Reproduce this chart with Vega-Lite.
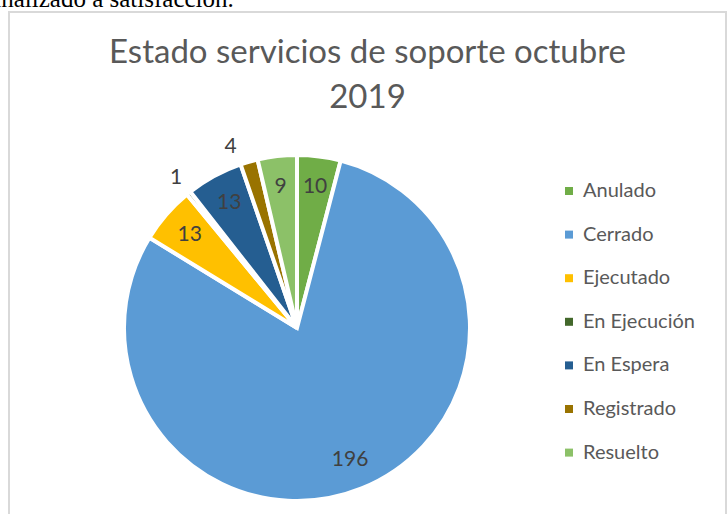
{
  "$schema": "https://vega.github.io/schema/vega-lite/v6.json",
  "autosize": "none",
  "padding": {"left": 9, "top": 12, "right": 2, "bottom": 0},
  "background": "white",
  "width": 717,
  "height": 503,
  "view": {"stroke": "#d9d9d9", "strokeWidth": 2},
  "title": {
    "text": ["Estado servicios de soporte octubre", "2019"],
    "font": "Lato",
    "fontSize": 33,
    "fontWeight": "normal",
    "color": "#595959",
    "anchor": "middle",
    "frame": "group",
    "lineHeight": 45,
    "baseline": "alphabetic",
    "offset": -154
  },
  "data": {
    "values": [
      {"Estado": "Anulado", "Cantidad": 10},
      {"Estado": "Cerrado", "Cantidad": 196},
      {"Estado": "Ejecutado", "Cantidad": 13},
      {"Estado": "En Ejecución", "Cantidad": 1},
      {"Estado": "En Espera", "Cantidad": 13},
      {"Estado": "Registrado", "Cantidad": 4},
      {"Estado": "Resuelto", "Cantidad": 9}
    ]
  },
  "layer": [
    {
      "mark": {"type": "arc", "radius": 173, "x": 288, "y": 316, "stroke": "white", "strokeWidth": 4},
      "encoding": {
        "theta": {"field": "Cantidad", "type": "quantitative", "stack": true},
        "order": {"field": "Estado", "type": "ordinal"},
        "color": {
          "field": "Estado",
          "type": "nominal",
          "scale": {
            "domain": ["Anulado", "Cerrado", "Ejecutado", "En Ejecución", "En Espera", "Registrado", "Resuelto"],
            "range": ["#70AD47", "#5B9BD5", "#FFC000", "#43682B", "#255E91", "#997300", "#8CC168"]
          },
          "legend": {
            "orient": "none",
            "legendX": 550,
            "legendY": 169,
            "title": null,
            "padding": 0,
            "symbolType": "square",
            "symbolSize": 64,
            "symbolStrokeWidth": 0,
            "labelFont": "Lato",
            "labelFontSize": 20,
            "labelColor": "#595959",
            "labelOffset": 4,
            "rowPadding": 23.6
          }
        }
      }
    },
    {
      "mark": {"type": "text", "radius": 142, "x": 288, "y": 316, "font": "Lato", "fontSize": 21, "color": "#404040"},
      "encoding": {
        "theta": {"field": "Cantidad", "type": "quantitative", "stack": true},
        "order": {"field": "Estado", "type": "ordinal"},
        "text": {"condition": {"test": "datum.Cantidad >= 5", "field": "Cantidad", "type": "quantitative"}, "value": ""}
      }
    },
    {
      "mark": {"type": "text", "radius": 193, "x": 288, "y": 316, "font": "Lato", "fontSize": 21, "color": "#404040"},
      "encoding": {
        "theta": {"field": "Cantidad", "type": "quantitative", "stack": true},
        "order": {"field": "Estado", "type": "ordinal"},
        "text": {"condition": {"test": "datum.Estado === 'En Ejecución'", "field": "Cantidad", "type": "quantitative"}, "value": ""}
      }
    },
    {
      "mark": {"type": "text", "radius": 193, "x": 288, "y": 316, "dx": -13, "dy": 4, "font": "Lato", "fontSize": 21, "color": "#404040"},
      "encoding": {
        "theta": {"field": "Cantidad", "type": "quantitative", "stack": true},
        "order": {"field": "Estado", "type": "ordinal"},
        "text": {"condition": {"test": "datum.Estado === 'Registrado'", "field": "Cantidad", "type": "quantitative"}, "value": ""}
      }
    },
    {
      "data": {"values": [{"texto": "finalizado a satisfacción."}]},
      "mark": {"type": "text", "x": -23, "y": -5, "align": "left", "baseline": "alphabetic", "font": "Liberation Serif", "fontSize": 25, "color": "#000000"},
      "encoding": {
        "text": {"field": "texto", "type": "nominal"}
      }
    }
  ]
}
